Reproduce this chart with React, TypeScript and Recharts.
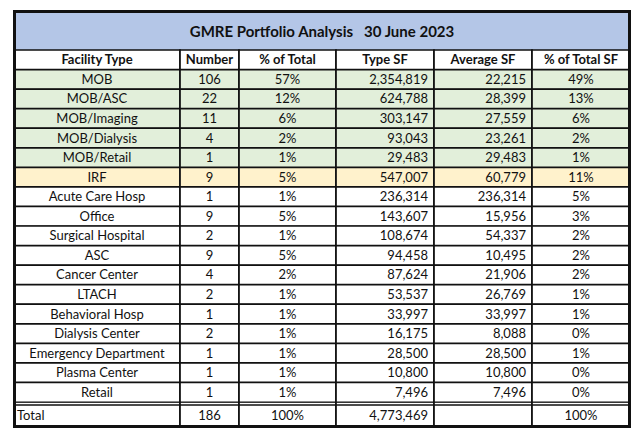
import React from "react";
import { BarChart, Bar, XAxis, YAxis, Cell, LabelList } from "recharts";

// GMRE portfolio by facility type, 30 June 2023
const headers = ["Facility Type", "Number", "% of Total", "Type SF", "Average SF", "% of Total SF"];
const facilityTypes = [
  "MOB", "MOB/ASC", "MOB/Imaging", "MOB/Dialysis", "MOB/Retail", "IRF",
  "Acute Care Hosp", "Office", "Surgical Hospital", "ASC", "Cancer Center", "LTACH",
  "Behavioral Hosp", "Dialysis Center", "Emergency Department", "Plasma Center", "Retail",
];
const numbers = [106, 22, 11, 4, 1, 9, 1, 9, 2, 9, 4, 2, 1, 2, 1, 1, 1];
const pctOfTotal = ["57%", "12%", "6%", "2%", "1%", "5%", "1%", "5%", "1%", "5%", "2%", "1%", "1%", "1%", "1%", "1%", "1%"];
const typeSF = [2354819, 624788, 303147, 93043, 29483, 547007, 236314, 143607, 108674, 94458, 87624, 53537, 33997, 16175, 28500, 10800, 7496];
const averageSF = [22215, 28399, 27559, 23261, 29483, 60779, 236314, 15956, 54337, 10495, 21906, 26769, 33997, 8088, 28500, 10800, 7496];
const pctOfTotalSF = ["49%", "13%", "6%", "2%", "1%", "11%", "5%", "3%", "2%", "2%", "2%", "1%", "1%", "0%", "1%", "0%", "0%"];
const rowGroups = ["mob", "mob", "mob", "mob", "mob", "irf", "other", "other", "other", "other", "other", "other", "other", "other", "other", "other", "other"];
const totalRow = ["Total", "186", "100%", "4,773,469", "", "100%"];

const COL_W = [166, 59, 97, 98, 98, 98];
const ALIGN = ["middle", "middle", "middle", "end", "end", "middle"];
const FILL: Record<string, string> = { head: "#ffffff", mob: "#e2efda", irf: "#fff2cc", other: "#ffffff", total: "#ffffff" };
const FONT = "Lato, 'Open Sans', sans-serif";

const fmt = (v: number) => v.toLocaleString("en-US");

type Row = { key: string; cells: string[]; group: string };

const tableRows: Row[] = [
  { key: "head", cells: headers, group: "head" },
  ...facilityTypes.map((f, i) => ({
    key: f,
    cells: [f, String(numbers[i]), pctOfTotal[i], fmt(typeSF[i]), fmt(averageSF[i]), pctOfTotalSF[i]],
    group: rowGroups[i],
  })),
];
const totalRows: Row[] = [{ key: "total", cells: totalRow, group: "total" }];

const makeLabel = (rows: Row[], col: number, dy = 0) =>
  // eslint-disable-next-line @typescript-eslint/no-explicit-any
  (props: any) => {
    const { x = 0, y = 0, width = 0, height = 0, index = 0 } = props;
    const r = rows[index];
    const head = r.group === "head";
    let anchor = head ? "middle" : ALIGN[col];
    let tx = x + width / 2;
    if (r.group === "total" && col === 0) anchor = "start";
    if (anchor === "end") tx = x + width - 6;
    if (anchor === "start") tx = x + 3;
    return (
      <text x={tx} y={y + dy + (height - dy) / 2 + 1} textAnchor={anchor} dominantBaseline="middle"
        fontSize={13} fontWeight={head ? 700 : 400} fill="#111" fontFamily={FONT}>
        {r.cells[col]}
      </text>
    );
  };

// total row cell: box with a second line 3px below its top (double rule)
// eslint-disable-next-line @typescript-eslint/no-explicit-any
const TotalShape = (props: any) => {
  const { x, y, width, height } = props;
  return (
    <g>
      <rect x={x} y={y} width={width} height={height} fill="#fff" stroke="#111" strokeWidth={1.7} />
      <line x1={x} x2={x + width} y1={y + 3} y2={y + 3} stroke="#111" strokeWidth={1.7} />
    </g>
  );
};

function Table({ rows, width, height, margin, total }: { rows: Row[]; width: number; height: number; margin: { top: number; right: number; bottom: number; left: number }; total?: boolean }) {
  return (
    <BarChart width={width} height={height} data={rows} layout="vertical" margin={margin} barCategoryGap={0}>
      <XAxis type="number" hide domain={[0, COL_W.reduce((a, b) => a + b, 0)]} />
      <YAxis type="category" dataKey="key" hide />
      {COL_W.map((w, c) => (
        <Bar key={c} dataKey={() => w} stackId="t" isAnimationActive={false}
          stroke="#111" strokeWidth={1.7} shape={total ? TotalShape : undefined}>
          {rows.map((r, i) => (
            <Cell key={i} fill={FILL[r.group]} />
          ))}
          <LabelList content={makeLabel(rows, c, total ? 3 : 0)} />
        </Bar>
      ))}
    </BarChart>
  );
}

export default function App() {
  return (
    <div style={{ position: "absolute", left: 0, top: 0, width: 640, height: 444, background: "#fff", fontFamily: FONT }}>
      <div style={{ position: "absolute", left: 14, top: 12, width: 616, height: 38, background: "#b4c6e7",
        display: "flex", alignItems: "center", justifyContent: "center", fontWeight: 700, fontSize: 15, color: "#111", whiteSpace: "pre" }}>
        {"GMRE Portfolio Analysis   30 June 2023"}
      </div>
      <div style={{ position: "absolute", left: 0, top: 0 }}>
        <Table rows={tableRows} width={640} height={402} margin={{ top: 50, right: 10, bottom: 0, left: 14 }} />
      </div>
      <div style={{ position: "absolute", left: 0, top: 402 }}>
        <Table rows={totalRows} width={640} height={25} margin={{ top: 0, right: 10, bottom: 0, left: 14 }} total />
      </div>
      <div style={{ position: "absolute", left: 13, top: 10, width: 618, height: 418, boxSizing: "border-box",
        border: "3px solid #111", pointerEvents: "none" }} />
    </div>
  );
}
